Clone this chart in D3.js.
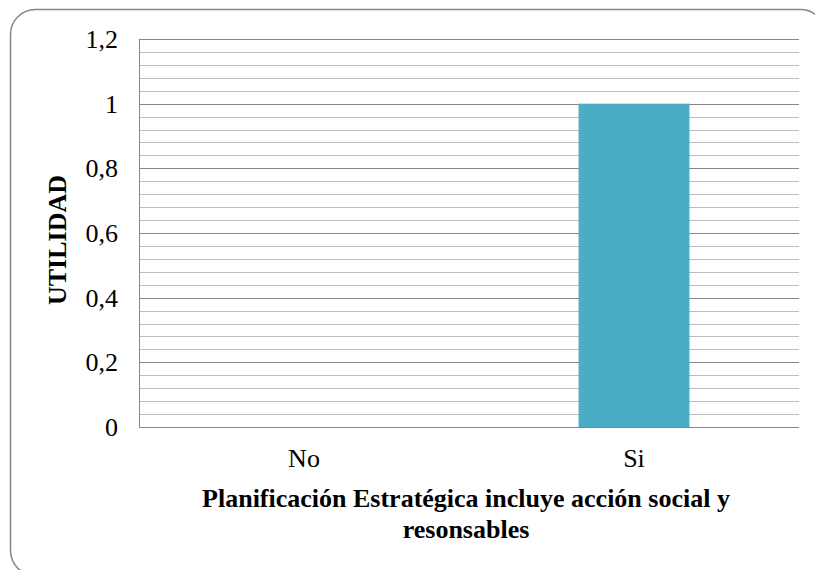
<!DOCTYPE html>
<html>
<head>
<meta charset="utf-8">
<script src="https://cdn.jsdelivr.net/npm/d3@7"></script>
<style>
  body { margin: 0; background: white; }
</style>
</head>
<body>
<script>
// data
const categories = ['No', 'Si']
const values = [0, 1]
const yTicks = [0, 0.2, 0.4, 0.6, 0.8, 1, 1.2]
const minorStep = 0.04

const serif = '"Liberation Serif", "Times New Roman", serif'

const W = 815, H = 570
const margin = {top: 39, right: 16, bottom: 143, left: 139}
const width = W - margin.left - margin.right
const height = H - margin.top - margin.bottom

const svg = d3.select('body').append('svg')
    .attr('width', W)
    .attr('height', H)

// rounded chart border
svg.append('rect')
    .attr('x', 10.5)
    .attr('y', 9.5)
    .attr('width', 815)
    .attr('height', 566)
    .attr('rx', 25)
    .attr('fill', 'white')
    .attr('stroke', '#868686')
    .attr('stroke-width', 1.5)

const xScale = d3.scaleBand()
    .domain(categories)
    .range([margin.left, margin.left + width])
    .paddingInner(0.664)
    .paddingOuter(0.332)

const yScale = d3.scaleLinear()
    .domain([0, 1.2])
    .range([margin.top + height, margin.top])

// minor gridlines, 4 between each major
const minor = d3.range(0, 31).map(i => +(i * minorStep).toFixed(2)).filter(v => !yTicks.includes(v))
svg.append('g').selectAll('line').data(minor)
    .enter().append('line')
    .attr('x1', margin.left).attr('x2', margin.left + width)
    .attr('y1', d => Math.round(yScale(d)) + 0.5)
    .attr('y2', d => Math.round(yScale(d)) + 0.5)
    .attr('stroke', '#bfbfbf')
    .attr('stroke-width', 1)

// major gridlines
svg.append('g').selectAll('line').data(yTicks)
    .enter().append('line')
    .attr('x1', margin.left).attr('x2', margin.left + width)
    .attr('y1', d => Math.round(yScale(d)) + 0.5)
    .attr('y2', d => Math.round(yScale(d)) + 0.5)
    .attr('stroke', '#868686')
    .attr('stroke-width', 1)

// bars
svg.selectAll('.bar').data(values)
    .enter().append('rect')
    .attr('class', 'bar')
    .attr('x', (d, i) => xScale(categories[i]))
    .attr('y', d => yScale(d))
    .attr('width', xScale.bandwidth())
    .attr('height', d => yScale(0) - yScale(d))
    .attr('fill', '#4bacc6')

// y axis line
svg.append('line')
    .attr('x1', margin.left + 0.5).attr('x2', margin.left + 0.5)
    .attr('y1', margin.top).attr('y2', margin.top + height)
    .attr('stroke', '#868686')

// y tick labels
const fmt = d => String(d).replace('.', ',')
svg.append('g').selectAll('text').data(yTicks)
    .enter().append('text')
    .attr('x', margin.left - 21)
    .attr('y', d => yScale(d) + 9)
    .attr('text-anchor', 'end')
    .style('font-family', serif)
    .style('font-size', '26px')
    .text(fmt)

// x labels
svg.append('g').selectAll('text').data(categories)
    .enter().append('text')
    .attr('x', d => xScale(d) + xScale.bandwidth() / 2)
    .attr('y', margin.top + height + 40)
    .attr('text-anchor', 'middle')
    .style('font-family', serif)
    .style('font-size', '26px')
    .text(d => d)

// axis titles
svg.append('text')
    .attr('text-anchor', 'middle')
    .attr('transform', 'translate(' + 66 + ',' + 240 + ')rotate(-90)')
    .style('font-family', serif)
    .style('font-size', '26px')
    .style('font-weight', 'bold')
    .text('UTILIDAD')

svg.append('text')
    .attr('text-anchor', 'middle')
    .attr('x', 466)
    .attr('y', 507)
    .style('font-family', serif)
    .style('font-size', '26px')
    .style('font-weight', 'bold')
    .text('Planificación Estratégica incluye acción social y')

svg.append('text')
    .attr('text-anchor', 'middle')
    .attr('x', 466)
    .attr('y', 538)
    .style('font-family', serif)
    .style('font-size', '26px')
    .style('font-weight', 'bold')
    .text('resonsables')
</script>
</body>
</html>
